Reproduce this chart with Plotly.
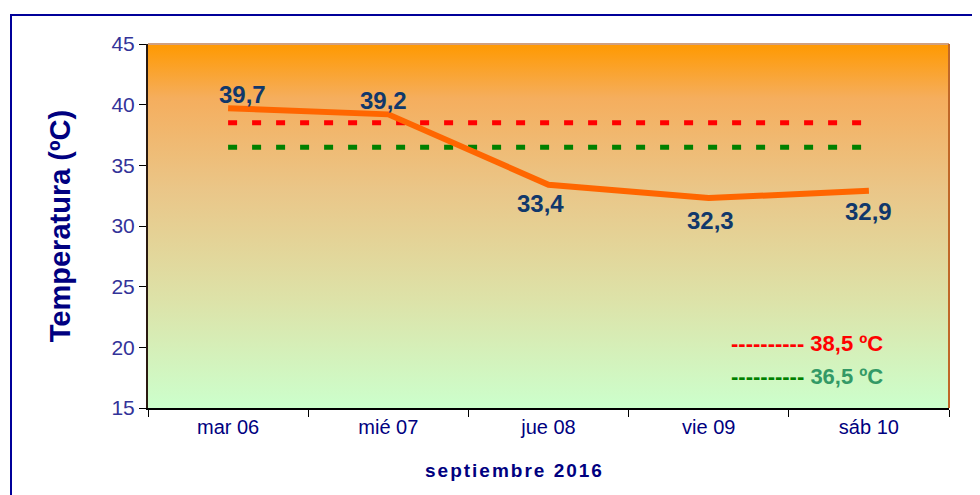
import plotly.graph_objects as go

categories = ["mar 06", "mié 07", "jue 08", "vie 09", "sáb 10"]
temperatures = [39.7, 39.2, 33.4, 32.3, 32.9]
label_sides = ["above", "above", "below", "below", "below"]
threshold_high = 38.5
threshold_low = 36.5
y_ticks = [15, 20, 25, 30, 35, 40, 45]
x_title = "septiembre 2016"
y_title = "Temperatura (ºC)"

# label nudges (styling only)
label_xshift = [14, -5, -8, 2, 0]
label_yshift = [14, 14, -19, -22, -21]

OFF = 8  # page body margin
W, H = 980 - OFF, 495 - OFF
L, R, T, B = 148 - OFF, 980 - 949, 44 - OFF, 495 - 408
pw, ph = W - L - R, H - T - B

def px_x(p):
    return (p - OFF - L) / pw

def px_y(p):
    return (H - B - (p - OFF)) / ph

def fmt(v):
    return f"{v:.1f}".replace(".", ",")

FONT = "Liberation Sans, Arial"
fig = go.Figure()

fig.add_trace(go.Scatter(
    x=[0, 1, 1, 0, 0], y=[15, 15, 45, 45, 15], xaxis="x", yaxis="y",
    mode="lines", line=dict(width=0), fill="toself",
    fillgradient=dict(type="vertical", start=15, stop=45,
                      colorscale=[[0, "#CCFFCC"], [0.3, "#DDE2A8"], [0.6, "#EAC688"],
                                  [0.85, "#F5AE5E"], [1, "#FF9900"]]),
    hoverinfo="skip", showlegend=False))

fig.add_trace(go.Scatter(
    x=categories, y=[threshold_high] * len(categories), xaxis="x2", yaxis="y",
    mode="lines", line=dict(color="#FF0000", width=5, dash="9px,15px"),
    showlegend=False))
fig.add_trace(go.Scatter(
    x=categories, y=[threshold_low] * len(categories), xaxis="x2", yaxis="y",
    mode="lines", line=dict(color="#008000", width=5, dash="9px,15px"),
    showlegend=False))
fig.add_trace(go.Scatter(
    x=categories, y=temperatures, xaxis="x2", yaxis="y",
    mode="lines", line=dict(color="#FF6600", width=6),
    showlegend=False))

annotations = []
for c, v, dx, dy in zip(categories, temperatures, label_xshift, label_yshift):
    annotations.append(dict(
        x=c, y=v, xref="x2", yref="y", text=f"<b>{fmt(v)}</b>", showarrow=False,
        font=dict(family=FONT, size=24, color="#10386B"),
        xshift=dx, yshift=dy,
    ))

annotations.append(dict(
    x=px_x(729), y=px_y(343), xref="paper", yref="paper", xanchor="left", yanchor="middle",
    showarrow=False,
    text=f"<b>---------- {fmt(threshold_high)} ºC</b>",
    font=dict(family=FONT, size=22, color="#FF0000")))
annotations.append(dict(
    x=px_x(729), y=px_y(376), xref="paper", yref="paper", xanchor="left", yanchor="middle",
    showarrow=False,
    text=f"<b><span style='color:#008000'>----------</span> {fmt(threshold_low)} ºC</b>",
    font=dict(family=FONT, size=22, color="#339966")))
annotations.append(dict(
    x=px_x(514), y=px_y(470), xref="paper", yref="paper", xanchor="center", yanchor="middle",
    showarrow=False,
    text=f"<b><span style='letter-spacing:2px'>{x_title}</span></b>",
    font=dict(family=FONT, size=19, color="#000080")))

shapes = [
    dict(type="rect", xref="paper", yref="paper", x0=px_x(11), x1=px_x(1100),
         y0=px_y(600), y1=px_y(15), line=dict(color="#000099", width=2)),
    dict(type="line", xref="paper", yref="paper", x0=0, x1=1, y0=1, y1=1,
         line=dict(color="#D0A080", width=2)),
    dict(type="line", xref="paper", yref="paper", x0=1, x1=1, y0=0, y1=1,
         line=dict(color="#C06828", width=2)),
]

fig.update_layout(
    width=W, height=H, margin=dict(l=L, r=R, t=T, b=B),
    paper_bgcolor="white", plot_bgcolor="rgba(0,0,0,0)",
    showlegend=False,
    xaxis=dict(range=[0, 1], visible=False, fixedrange=True),
    xaxis2=dict(type="category", overlaying="x", anchor="y", side="bottom",
                tickson="boundaries", ticks="outside", ticklen=7, tickcolor="#000000",
                showline=True, linecolor="#000000", linewidth=2, showgrid=False,
                range=[-0.5, 4.5],
                tickfont=dict(family=FONT, size=20, color="#000080")),
    yaxis=dict(range=[15, 45], tickvals=y_ticks, ticks="outside", ticklen=7,
               tickcolor="#000000", showline=True, linecolor="#2A1A10", linewidth=2,
               showgrid=False, zeroline=False,
               tickfont=dict(family=FONT, size=21, color="#333399"),
               title=dict(text=f"<b>{y_title}</b>", standoff=32,
                          font=dict(family=FONT, size=29, color="#000080"))),
    annotations=annotations, shapes=shapes,
)

fig.write_html("out.html")
